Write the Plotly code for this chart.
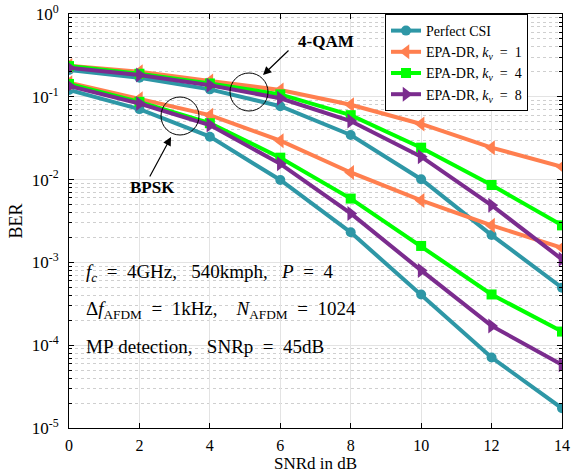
import plotly.graph_objects as go

# ---------------- data ----------------
snr_db = [0, 2, 4, 6, 8, 10, 12, 14]

perfect_bpsk = [0.121, 0.071, 0.033, 0.0099, 0.00231, 0.00041, 7.1e-5, 1.73e-5]
k1_bpsk = [0.148, 0.095, 0.060, 0.0295, 0.0122, 0.0056, 0.0028, 0.0015]
k4_bpsk = [0.143, 0.087, 0.048, 0.0184, 0.0059, 0.00158, 0.00041, 0.000146]
k8_bpsk = [0.135, 0.083, 0.0456, 0.0155, 0.0039, 0.00080, 0.000171, 5.8e-5]

perfect_qam = [0.211, 0.170, 0.123, 0.077, 0.0346, 0.0101, 0.00214, 0.000495]
k1_qam = [0.238, 0.201, 0.155, 0.121, 0.080, 0.047, 0.0243, 0.0143]
k4_qam = [0.235, 0.190, 0.145, 0.107, 0.060, 0.0243, 0.0086, 0.0028]
k8_qam = [0.224, 0.183, 0.138, 0.096, 0.051, 0.0189, 0.0049, 0.00109]

NB = "\u00a0"
EQ = NB + "=" + NB
EQW = NB * 2 + "=" + NB * 2
series_names = ["Perfect" + NB + "CSI",
                "EPA-DR," + NB + "<i>k</i><sub><i>ν</i></sub>" + EQW + "1",
                "EPA-DR," + NB + "<i>k</i><sub><i>ν</i></sub>" + EQW + "4",
                "EPA-DR," + NB + "<i>k</i><sub><i>ν</i></sub>" + EQW + "8"]

x_ticks = [0, 2, 4, 6, 8, 10, 12, 14]
y_tickvals = [1e-5, 1e-4, 1e-3, 1e-2, 1e-1, 1]
y_ticktext = ["10<sup>-5</sup>", "10<sup>-4</sup>", "10<sup>-3</sup>",
              "10<sup>-2</sup>", "10<sup>-1</sup>", "10<sup>0</sup>"]

info_texts = [
    "<i>f</i><sub><i>c</i></sub>" + EQW + "4GHz," + NB * 3 + "540kmph," + NB * 3 + "<i>P</i>" + EQW + "4",
    "Δ<i>f</i><sub>AFDM</sub>" + EQW + "1kHz," + NB * 4 + "<i>N</i><sub>AFDM</sub>" + EQW + "1024",
    "MP" + NB + "detection," + NB * 3 + "SNRp" + EQW + "45dB",
]

# ---------------- styles ----------------
colors = ["#2E97A6", "#FF7F4F", "#00FF00", "#7B2C8E"]
symbols = ["circle", "triangle-left", "square", "triangle-right"]
msizes = [10, 13, 10, 13]
FONT = "Liberation Serif, Times New Roman, serif"

W, H = 575, 474
L, R, T, B = 69, 13, 14, 46
PW, PH = W - L - R, H - T - B


def px(xp):
    return (xp - L) / PW


def py(yp):
    return (H - B - yp) / PH


fig = go.Figure()

groups = [(perfect_bpsk, perfect_qam), (k1_bpsk, k1_qam),
          (k4_bpsk, k4_qam), (k8_bpsk, k8_qam)]

for i, (bp, qa) in enumerate(groups):
    for j, ys in enumerate((bp, qa)):
        fig.add_trace(go.Scatter(
            x=snr_db, y=ys, mode="lines+markers",
            name=series_names[i], legendgroup=str(i),
            showlegend=(j == 0),
            line=dict(color=colors[i], width=4),
            marker=dict(symbol=symbols[i], size=msizes[i], color=colors[i],
                        line=dict(width=0)),
        ))

# circles
for (cx, cy, r) in [(249, 92, 19), (180, 116, 19)]:
    fig.add_shape(type="circle", xref="paper", yref="paper",
                  x0=px(cx - r), x1=px(cx + r), y0=py(cy + r), y1=py(cy - r),
                  line=dict(color="black", width=1))

# arrows
fig.add_annotation(xref="paper", yref="paper", x=px(263), y=py(75),
                   ax=27, ay=-26, text="", showarrow=True,
                   arrowhead=2, arrowsize=1.4, arrowwidth=1.2, arrowcolor="black")
fig.add_annotation(xref="paper", yref="paper", x=px(171), y=py(137),
                   ax=-22, ay=41, text="", showarrow=True,
                   arrowhead=2, arrowsize=1.4, arrowwidth=1.2, arrowcolor="black")

# labels
fig.add_annotation(xref="paper", yref="paper", x=px(296), y=py(42),
                   text="<b>4-QAM</b>", showarrow=False, xanchor="left",
                   yanchor="middle", font=dict(family=FONT, size=17, color="black"))
fig.add_annotation(xref="paper", yref="paper", x=px(152), y=py(187),
                   text="<b>BPSK</b>", showarrow=False, xanchor="center",
                   yanchor="middle", font=dict(family=FONT, size=17, color="black"))

for txt, yp in zip(info_texts, [273, 310, 346]):
    fig.add_annotation(xref="paper", yref="paper", x=px(84), y=py(yp),
                       text=txt, showarrow=False, xanchor="left", yanchor="middle",
                       font=dict(family=FONT, size=19, color="black"))

minor_y = [k * 10 ** e for e in range(-5, 0) for k in range(2, 10)]

fig.update_layout(
    width=W, height=H,
    margin=dict(l=L, r=R, t=T, b=B, pad=0, autoexpand=False),
    plot_bgcolor="white", paper_bgcolor="white",
    font=dict(family=FONT, size=16, color="black"),
    legend=dict(x=px(385), y=py(14), xanchor="left", yanchor="top",
                bgcolor="white", bordercolor="black", borderwidth=1,
                font=dict(family=FONT, size=14, color="black"),
                tracegroupgap=0, itemwidth=30),
    xaxis=dict(range=[0, 14], tickvals=x_ticks, showline=True, linecolor="black",
               linewidth=1, mirror="ticks", ticks="inside", ticklen=5,
               tickcolor="black", showgrid=True, gridcolor="#e3e3e3", zeroline=False,
               ticklabelstandoff=3, automargin=False,
               title=dict(text="SNRd" + NB + "in" + NB + "dB", standoff=2,
                          font=dict(size=17)),
               tickfont=dict(size=16)),
    yaxis=dict(type="log", range=[-5, 0], tickvals=y_tickvals, ticktext=y_ticktext,
               showline=True, linecolor="black", linewidth=1, mirror="ticks",
               ticks="inside", ticklen=5, tickcolor="black",
               showgrid=True, gridcolor="#e3e3e3", zeroline=False,
               ticklabelstandoff=6, automargin=False,
               title=dict(text="BER", standoff=4, font=dict(size=18)),
               tickfont=dict(size=17),
               minor=dict(tickvals=minor_y, ticks="inside", ticklen=3,
                          tickcolor="black", showgrid=True, gridcolor="#cfcfcf",
                          griddash="dot", gridwidth=1)),
)

fig.write_html(
    "out.html",
    config={"displayModeBar": False},
    post_script="document.body.style.margin='0';document.body.style.overflow='hidden';",
)
